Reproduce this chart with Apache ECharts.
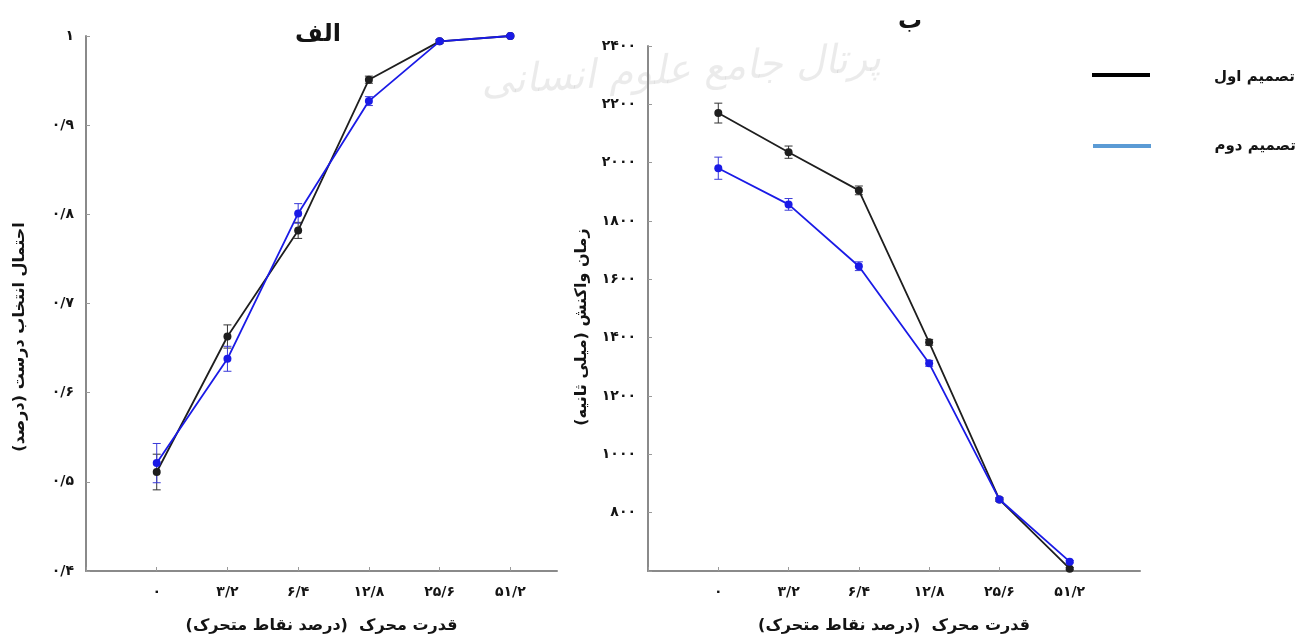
<!DOCTYPE html>
<html>
<head>
<meta charset="utf-8">
<script src="https://cdn.jsdelivr.net/npm/echarts@6/dist/echarts.min.js"></script>
<style>
html,body{margin:0;padding:0;background:#fff;}
#chart{width:1308px;height:641px;}
</style>
</head>
<body>
<div id="chart"></div>
<script>
// ---- data ----
const categories = ['۰', '۳/۲', '۶/۴', '۱۲/۸', '۲۵/۶', '۵۱/۲'];
const seriesNames = ['تصمیم اول', 'تصمیم دوم'];

const accDesign1 = [0.511, 0.663, 0.782, 0.951, 0.994, 1.0];
const accDesign1Err = [0.020, 0.013, 0.009, 0.004, 0.002, 0.001];
const accDesign2 = [0.521, 0.638, 0.801, 0.927, 0.994, 1.0];
const accDesign2Err = [0.022, 0.014, 0.011, 0.005, 0.002, 0.001];

const rtDesign1 = [2170, 2036, 1905, 1384, 845, 608];
const rtDesign1Err = [34, 21, 15, 10, 6, 4];
const rtDesign2 = [1981, 1857, 1645, 1312, 845, 632];
const rtDesign2Err = [38, 20, 15, 10, 6, 4];

const accTickLabels = ['۰/۴', '۰/۵', '۰/۶', '۰/۷', '۰/۸', '۰/۹', '۱'];
const rtTickLabels = ['', '۸۰۰', '۱۰۰۰', '۱۲۰۰', '۱۴۰۰', '۱۶۰۰', '۱۸۰۰', '۲۰۰۰', '۲۲۰۰', '۲۴۰۰'];

const titleA = 'الف';
const titleB = 'ب';
const accAxisName = 'احتمال انتخاب درست (درصد)';
const rtAxisName = 'زمان واکنش (میلی ثانیه)';
const xAxisName = 'قدرت محرک  (درصد نقاط متحرک)';
const watermark = 'پرتال جامع علوم انسانی';

// ---- helpers ----
const FONT = 'DejaVu Sans';
const TXT = '#141414';
const BLACK = '#1e1e1e';
const BLUE = '#1a1ae6';

function pts(vals) { return vals.map((v, i) => [i, v]); }
function errs(vals, e) { return vals.map((v, i) => [i, v - e[i], v + e[i]]); }

function errRender(params, api) {
  const x = api.value(0);
  const p1 = api.coord([x, api.value(1)]);
  const p2 = api.coord([x, api.value(2)]);
  const c = api.visual('color');
  const w = 4;
  const st = { stroke: c, lineWidth: 1 };
  return {
    type: 'group',
    children: [
      { type: 'line', shape: { x1: p1[0], y1: p1[1], x2: p2[0], y2: p2[1] }, style: st },
      { type: 'line', shape: { x1: p1[0] - w, y1: p1[1], x2: p1[0] + w, y2: p1[1] }, style: st },
      { type: 'line', shape: { x1: p2[0] - w, y1: p2[1], x2: p2[0] + w, y2: p2[1] }, style: st }
    ]
  };
}

const axisLineStyle = { show: true, onZero: false, lineStyle: { color: '#8a8a8a', width: 2 } };
const tickStyle = { show: true, inside: true, length: 4, lineStyle: { color: '#9a9a9a', width: 1 } };
const labelFont = { fontFamily: FONT, fontWeight: 'bold', fontSize: 14, color: TXT };
const nameFont = { fontFamily: FONT, fontWeight: 'bold', fontSize: 16, color: TXT };

function xAxis(gridIndex, max) {
  return {
    type: 'value', gridIndex, min: -1, max, interval: 1,
    axisLine: axisLineStyle, axisTick: tickStyle, splitLine: { show: false },
    axisLabel: Object.assign({
      margin: 14, showMaxLabel: false,
      formatter: v => (Number.isInteger(v) && v >= 0 && v < categories.length) ? categories[v] : ''
    }, labelFont),
    name: xAxisName, nameLocation: 'middle', nameGap: 47, nameTextStyle: nameFont
  };
}

const option = {
  backgroundColor: '#fff',
  animation: false,
  grid: [
    { left: 86, top: 36, width: 471, height: 535 },
    { left: 648, top: 46, width: 492, height: 525 }
  ],
  xAxis: [xAxis(0, 5.66), xAxis(1, 6)],
  yAxis: [
    {
      type: 'value', gridIndex: 0, min: 0.4, max: 1, interval: 0.1,
      axisLine: axisLineStyle, axisTick: tickStyle, splitLine: { show: false },
      axisLabel: Object.assign({ margin: 12, formatter: v => accTickLabels[Math.round((v - 0.4) * 10)] || '' }, labelFont)
    },
    {
      type: 'value', gridIndex: 1, min: 600, max: 2400, interval: 200,
      axisLine: axisLineStyle, axisTick: tickStyle, splitLine: { show: false },
      axisLabel: Object.assign({ margin: 12, formatter: v => rtTickLabels[Math.round((v - 600) / 200)] || '' }, labelFont)
    }
  ],
  series: [
    { type: 'custom', name: seriesNames[0] + ' err', xAxisIndex: 0, yAxisIndex: 0, color: '#333', renderItem: errRender, data: errs(accDesign1, accDesign1Err), z: 3 },
    { type: 'custom', name: seriesNames[1] + ' err', xAxisIndex: 0, yAxisIndex: 0, color: '#3a3ad8', renderItem: errRender, data: errs(accDesign2, accDesign2Err), z: 3 },
    { type: 'line', name: seriesNames[0], xAxisIndex: 0, yAxisIndex: 0, data: pts(accDesign1), color: BLACK, symbol: 'circle', symbolSize: 8, lineStyle: { width: 1.8 }, z: 4 },
    { type: 'line', name: seriesNames[1], xAxisIndex: 0, yAxisIndex: 0, data: pts(accDesign2), color: BLUE, symbol: 'circle', symbolSize: 8, lineStyle: { width: 1.8 }, z: 5 },
    { type: 'custom', name: seriesNames[0] + ' err2', xAxisIndex: 1, yAxisIndex: 1, color: '#333', renderItem: errRender, data: errs(rtDesign1, rtDesign1Err), z: 3 },
    { type: 'custom', name: seriesNames[1] + ' err2', xAxisIndex: 1, yAxisIndex: 1, color: '#3a3ad8', renderItem: errRender, data: errs(rtDesign2, rtDesign2Err), z: 3 },
    { type: 'line', name: seriesNames[0], xAxisIndex: 1, yAxisIndex: 1, data: pts(rtDesign1), color: BLACK, symbol: 'circle', symbolSize: 8, lineStyle: { width: 1.8 }, z: 4 },
    { type: 'line', name: seriesNames[1], xAxisIndex: 1, yAxisIndex: 1, data: pts(rtDesign2), color: BLUE, symbol: 'circle', symbolSize: 8, lineStyle: { width: 1.8 }, z: 5 }
  ],
  graphic: [
    { type: 'text', left: 480, top: 40, rotation: 0.06, z: 0, silent: true,
      style: { text: watermark, fontFamily: FONT, fontSize: 40, fontStyle: 'italic', fill: 'rgba(0,0,0,0.08)' } },
    { type: 'text', x: 318, y: 35, style: { text: titleA, fontFamily: FONT, fontWeight: 'bold', fontSize: 24, fill: TXT, align: 'center', verticalAlign: 'middle' } },
    { type: 'text', x: 910, y: 22, style: { text: titleB, fontFamily: FONT, fontWeight: 'bold', fontSize: 24, fill: TXT, align: 'center', verticalAlign: 'middle' } },
    { type: 'text', x: 20, y: 337, rotation: Math.PI / 2, style: { text: accAxisName, fontFamily: FONT, fontWeight: 'bold', fontSize: 16, fill: TXT, align: 'center', verticalAlign: 'middle' } },
    { type: 'text', x: 582, y: 327, rotation: Math.PI / 2, style: { text: rtAxisName, fontFamily: FONT, fontWeight: 'bold', fontSize: 16, fill: TXT, align: 'center', verticalAlign: 'middle' } },
    { type: 'line', shape: { x1: 1092, y1: 75, x2: 1150, y2: 75 }, style: { stroke: '#000', lineWidth: 4 } },
    { type: 'line', shape: { x1: 1093, y1: 146, x2: 1151, y2: 146 }, style: { stroke: '#5b9bd5', lineWidth: 4 } },
    { type: 'text', x: 1295, y: 77, style: { text: seriesNames[0], fontFamily: FONT, fontWeight: 'bold', fontSize: 15, fill: TXT, align: 'right', verticalAlign: 'middle' } },
    { type: 'text', x: 1296, y: 146, style: { text: seriesNames[1], fontFamily: FONT, fontWeight: 'bold', fontSize: 15, fill: TXT, align: 'right', verticalAlign: 'middle' } }
  ]
};

const chart = echarts.init(document.getElementById('chart'), null, { renderer: 'canvas' });
chart.setOption(option);
</script>
</body>
</html>
